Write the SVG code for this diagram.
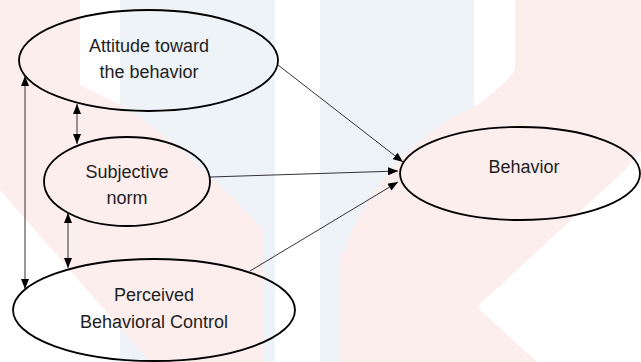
<svg xmlns="http://www.w3.org/2000/svg" width="641" height="362" viewBox="0 0 641 362">
<style>
.node ellipse{fill:none;stroke:#000;stroke-width:1.8}
.node text{font-family:"Liberation Sans",Arial,sans-serif;font-size:18px;fill:#1e1e1e;text-anchor:middle}
.conn line{stroke:#333;stroke-width:1}
.wm-p{fill:#fdeeee}
.wm-b{fill:#eef3f8}
</style>
<defs>
<marker id="ah" viewBox="0 0 10 8" refX="10" refY="4" markerWidth="10" markerHeight="8" markerUnits="userSpaceOnUse" orient="auto-start-reverse">
<path d="M0,0 L10,4 L0,8 Z" fill="#000"/>
</marker>
</defs>
<rect width="641" height="362" fill="#fff"/>
<g id="watermark">
<rect class="wm-b" x="120" y="0" width="155" height="362"/>
<rect class="wm-b" x="320" y="0" width="154" height="362"/>
<path class="wm-p" d="M0,0 H80 V85 Q110,100 130,110 Q200,160 263,230 V362 H150 L0,190 Z"/>
<path class="wm-p" d="M515,0 H641 V150 L625,170 L477,307 L537,362 H340 V260 Q380,150 474,107 Q500,90 515,70 Z"/>
</g>
<g id="connectors" class="conn">
<line x1="278" y1="65" x2="403" y2="162" marker-end="url(#ah)"/>
<line x1="210" y1="177" x2="398" y2="171" marker-end="url(#ah)"/>
<line x1="250" y1="271" x2="398" y2="182" marker-end="url(#ah)"/>
<line x1="25" y1="76" x2="25" y2="289" marker-start="url(#ah)" marker-end="url(#ah)"/>
<line x1="77" y1="104" x2="77" y2="144" marker-start="url(#ah)" marker-end="url(#ah)"/>
<line x1="68" y1="213" x2="68" y2="268" marker-start="url(#ah)" marker-end="url(#ah)"/>
</g>
<g id="attitude" class="node">
<ellipse cx="148.5" cy="60.5" rx="129.5" ry="50.5"/>
<text x="149" y="52">Attitude toward</text>
<text x="149" y="78">the behavior</text>
</g>
<g id="subjective" class="node">
<ellipse cx="127" cy="181.5" rx="83" ry="44.5"/>
<text x="127" y="178">Subjective</text>
<text x="127" y="204">norm</text>
</g>
<g id="pbc" class="node">
<ellipse cx="154" cy="310" rx="141" ry="51"/>
<text x="154" y="301">Perceived</text>
<text x="154" y="327.5">Behavioral Control</text>
</g>
<g id="behavior" class="node">
<ellipse cx="520" cy="173.5" rx="120" ry="46.5"/>
<text x="524" y="172.5">Behavior</text>
</g>
</svg>
